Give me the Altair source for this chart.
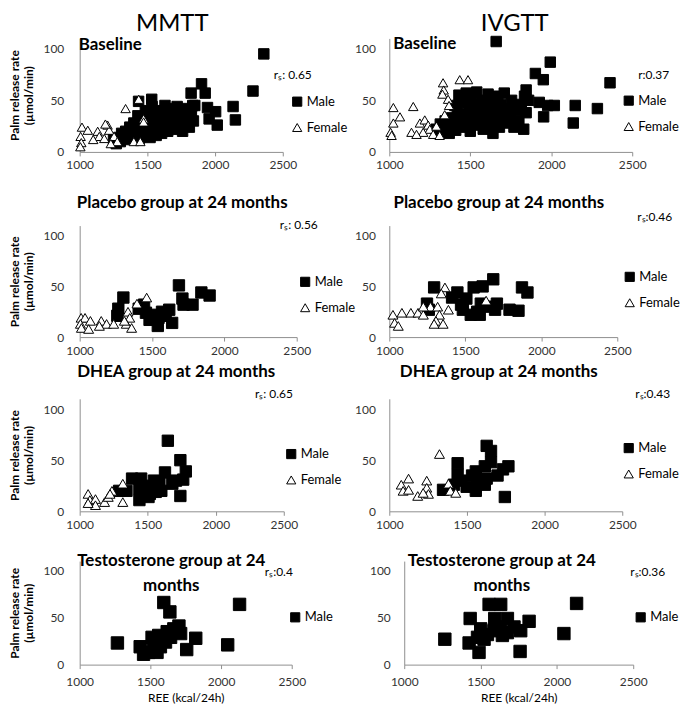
import altair as alt
import pandas as pd

FONT = "Lato"
X_TICKS = [1000, 1500, 2000, 2500]
Y_TICKS = [0, 50, 100]
AXIS_GREY = "#8f8f8f"

# ---------------- data: (REE kcal/24h, palm release rate µmol/min) ----------------
mmtt_base_male = [
    (1250, 12), (1270, 8), (1290, 14), (1300, 10), (1310, 18), (1330, 12), (1340, 20), (1355, 15),
    (1370, 24), (1380, 13), (1395, 19), (1400, 28), (1410, 16), (1420, 22), (1430, 35), (1440, 13),
    (1445, 26), (1455, 18), (1460, 31), (1470, 22), (1480, 15), (1485, 40), (1490, 27), (1500, 19),
    (1505, 34), (1515, 24), (1520, 14), (1530, 29), (1535, 44), (1545, 20), (1550, 37), (1560, 26),
    (1565, 16), (1575, 32), (1580, 23), (1590, 40), (1600, 28), (1605, 18), (1615, 35), (1625, 24),
    (1630, 45), (1640, 30), (1650, 20), (1655, 38), (1665, 27), (1670, 42), (1680, 33), (1690, 22),
    (1700, 36), (1710, 28), (1720, 44), (1730, 31), (1740, 25), (1750, 38), (1760, 20), (1770, 33),
    (1780, 42), (1790, 27), (1800, 35), (1810, 24), (1825, 40), (1840, 30), (1850, 45),
    (1435, 49), (1532, 51), (1823, 57), (1835, 45), (1900, 66), (1927, 57), (1944, 43), (1956, 32),
    (2004, 39), (2016, 26), (2133, 44), (2150, 31), (2280, 59), (2360, 95)]
mmtt_base_female = [
    (1017, 24), (1060, 21), (1007, 15), (1012, 9), (1005, 5), (1133, 20), (1206, 26), (1218, 21),
    (1339, 42), (1436, 51), (1472, 32), (1145, 15), (1254, 15), (1278, 10), (1400, 10), (1448, 10),
    (1182, 13), (1472, 29), (1190, 27), (1100, 12), (1230, 8)]

ivgtt_base_male = [
    (1290, 22), (1300, 18), (1315, 27), (1330, 20), (1345, 30), (1360, 24), (1370, 18), (1385, 33),
    (1395, 26), (1405, 45), (1410, 21), (1420, 38), (1430, 55), (1440, 30), (1450, 24), (1455, 48),
    (1465, 36), (1475, 57), (1480, 28), (1490, 42), (1500, 20), (1505, 52), (1515, 34), (1525, 46),
    (1535, 26), (1540, 58), (1550, 39), (1560, 30), (1570, 50), (1580, 22), (1590, 44), (1600, 35),
    (1610, 56), (1620, 27), (1630, 48), (1640, 18), (1650, 40), (1660, 32), (1670, 54), (1680, 24),
    (1690, 46), (1700, 36), (1710, 57), (1720, 28), (1730, 42), (1745, 34), (1755, 50), (1770, 24),
    (1785, 40), (1800, 30), (1815, 46), (1830, 22), (1845, 38), (1860, 50),
    (1660, 107), (1994, 87), (1902, 76), (1951, 70), (2363, 67), (2148, 45), (2285, 42), (2136, 28),
    (1953, 34), (1926, 48), (2019, 45), (1978, 45), (1845, 60), (1835, 54)]
ivgtt_base_female = [
    (1025, 43), (1025, 28), (1008, 19), (1014, 16), (1066, 34), (1148, 44), (1137, 19), (1332, 67),
    (1336, 60), (1328, 56), (1435, 70), (1486, 70), (1363, 51), (1369, 45), (1342, 36), (1189, 28),
    (1219, 31), (1240, 26), (1250, 22), (1271, 17), (1209, 19), (1168, 17), (1291, 25), (1311, 16)]

mmtt_placebo_male = [
    (1686, 51), (1302, 39), (1841, 44), (1898, 41), (1710, 38), (1780, 32), (1718, 32), (1619, 27),
    (1594, 21), (1639, 14), (1540, 11), (1267, 28), (1260, 21), (1445, 32), (1458, 24), (1507, 22),
    (1545, 19), (1569, 25), (1483, 17), (1408, 28)]
mmtt_placebo_female = [
    (1010, 19), (1037, 19), (1074, 16), (1005, 13), (1012, 9), (1062, 8), (1149, 16), (1186, 13),
    (1136, 11), (1334, 25), (1346, 19), (1322, 13), (1359, 9), (1396, 33), (1463, 39), (1309, 16),
    (1235, 13)]
ivgtt_placebo_male = [
    (1684, 57), (1295, 49), (1873, 49), (1909, 44), (1448, 44), (1555, 49), (1614, 50), (1507, 38),
    (1413, 39), (1248, 33), (1260, 27), (1484, 27), (1578, 25), (1602, 33), (1708, 33), (1696, 27),
    (1791, 27), (1850, 26), (1536, 22), (1595, 22), (1472, 32), (1649, 30)]
ivgtt_placebo_female = [
    (1024, 22), (1035, 14), (1059, 11), (1083, 24), (1142, 24), (1189, 24), (1224, 22), (1271, 30),
    (1318, 30), (1330, 22), (1307, 16), (1295, 13), (1354, 13), (1366, 49), (1342, 43), (1389, 27),
    (1637, 36), (1224, 30)]

mmtt_dhea_male = [
    (1648, 69), (1740, 50), (1780, 39), (1740, 15), (1627, 38), (1385, 32), (1452, 32), (1439, 22),
    (1439, 11), (1344, 20), (1290, 20), (1519, 25), (1559, 19), (1586, 28), (1708, 30), (1761, 31),
    (1681, 27), (1516, 17), (1600, 20), (1546, 30), (1506, 14)]
mmtt_dhea_female = [
    (1062, 17), (1075, 11), (1116, 12), (1116, 6), (1183, 9), (1210, 14), (1237, 20), (1223, 17),
    (1317, 27), (1317, 9), (1062, 8)]
ivgtt_dhea_male = [
    (1627, 64), (1655, 59), (1655, 48), (1615, 44), (1440, 47), (1440, 36), (1463, 30), (1533, 35),
    (1568, 29), (1498, 24), (1557, 20), (1346, 21), (1767, 44), (1732, 41), (1697, 35), (1744, 14),
    (1615, 26), (1627, 32), (1416, 26), (1557, 39)]
ivgtt_dhea_female = [
    (1077, 26), (1124, 32), (1089, 20), (1124, 21), (1183, 15), (1241, 30), (1241, 23), (1252, 17),
    (1323, 56), (1381, 27), (1393, 20), (1428, 18), (1218, 18)]

mmtt_testo_male = [
    (1267, 23), (1595, 66), (1638, 56), (2131, 64), (2047, 21), (1757, 16), (1821, 28), (1428, 19),
    (1452, 11), (1488, 13), (1535, 24), (1512, 29), (1559, 31), (1619, 35), (1666, 38), (1702, 41),
    (1714, 33), (1607, 24), (1571, 19), (1523, 17), (1643, 29), (1547, 13)]
ivgtt_testo_male = [
    (1266, 27), (1556, 64), (1632, 64), (2129, 65), (1432, 49), (1593, 49), (1676, 49), (1818, 46),
    (2046, 33), (1759, 14), (1490, 13), (1425, 23), (1480, 29), (1501, 38), (1545, 32), (1588, 36),
    (1632, 40), (1676, 34), (1719, 40), (1763, 36), (1643, 31), (1523, 27)]

column_titles = ["MMTT", "IVGTT"]
row_titles = ["Baseline", "Placebo group at 24 months", "DHEA group at 24 months",
              ["Testosterone group at 24", "months"]]
corr_labels = [["rₛ: 0.65", "r:0.37"], ["rₛ: 0.56", "rₛ:0.46"],
               ["rₛ: 0.65", "rₛ:0.43"], ["rₛ:0.4", "rₛ:0.36"]]
y_title = ["Palm release rate", "(µmol/min)"]
x_title = "REE  (kcal/24h)"


def make_df(points, sex):
    return pd.DataFrame([{"REE": x, "PRR": y, "Sex": sex} for x, y in points])


def txt(text, x, y, size, bold=False, align="left", line_height=None):
    kw = dict(text=text, font=FONT, fontSize=size, fontWeight="bold" if bold else "normal",
              align=align, baseline="middle", color="black")
    if line_height:
        kw["lineHeight"] = line_height
    return alt.Chart(pd.DataFrame({"k": [0]})).mark_text(**kw).encode(
        x=alt.value(x), y=alt.value(y))


def panel(male, female, width, height, left, bottom, leg, texts, msize, fsize, x0=0):
    sexes = ["Male", "Female"] if female else ["Male"]
    shapes = ["square", "triangle-up"][:len(sexes)]
    fills = ["black", "white"][:len(sexes)]
    strokes = ["black", "black"][:len(sexes)]
    legend = alt.Legend(orient="none", legendX=leg[0], legendY=leg[1], title=None,
                        labelFont=FONT, labelFontSize=13, labelColor="black", labelOffset=3,
                        symbolSize=85, symbolStrokeColor="black", symbolStrokeWidth=1,
                        rowPadding=12, padding=0)
    x_axis = alt.Axis(values=X_TICKS, format="d", tickSize=4, labelFlush=False,
                      labelPadding=8 if bottom else 4,
                      title=x_title if bottom else None, titleFont=FONT, titleFontSize=12,
                      titleFontWeight="normal", titleColor="black", titlePadding=5)
    y_axis = alt.Axis(values=Y_TICKS, ticks=False, tickSize=0, labelFlush=False,
                      labelPadding=16 if left else 14, offset=-x0,
                      title=y_title if left else None, titleFont=FONT, titleFontSize=12,
                      titleFontWeight="bold", titleColor="black", titlePadding=8,
                      titleLineHeight=14)
    enc = dict(
        x=alt.X("REE:Q", scale=alt.Scale(domain=[1000, 2500], range=[x0, width], nice=False,
                                         zero=False), axis=x_axis),
        y=alt.Y("PRR:Q", scale=alt.Scale(domain=[0, 110], nice=False), axis=y_axis),
        shape=alt.Shape("Sex:N", scale=alt.Scale(domain=sexes, range=shapes), legend=legend),
        fill=alt.Fill("Sex:N", scale=alt.Scale(domain=sexes, range=fills), legend=legend),
        stroke=alt.Stroke("Sex:N", scale=alt.Scale(domain=sexes, range=strokes), legend=legend),
    )
    layers = [alt.Chart(make_df(male, "Male")).mark_point(
        filled=True, strokeWidth=1, opacity=1, size=msize).encode(**enc)]
    if female:
        layers.append(alt.Chart(make_df(female, "Female")).mark_point(
            filled=True, strokeWidth=1, opacity=1, size=fsize).encode(**enc))
    return alt.layer(*layers, *texts).properties(width=width, height=height)


def spacer(w, h):
    return alt.Chart(pd.DataFrame({"k": [0]})).mark_point(opacity=0).encode(
        x=alt.value(0), y=alt.value(0)).properties(width=w, height=h)


H = [114, 112, 113, 104]
GAPS = [74, 62, 50]
LW = [204, 218, 205, 213]
RW = [244, 229, 234, 245]
COL_GAP = 93

L1 = panel(mmtt_base_male, mmtt_base_female, LW[0], H[0], True, False, (212, 57),
           [txt(column_titles[0], 93, -14, 24, align="center"),
            txt(row_titles[0], -1, 7, 17, bold=True),
            txt(corr_labels[0][0], 195, 37, 12)], 110, 90)
R1 = panel(ivgtt_base_male, ivgtt_base_female, RW[0], H[0], False, False, (234, 56),
           [txt(column_titles[1], 126, -14, 24, align="center"),
            txt(row_titles[0], 4, 6, 17, bold=True),
            txt(corr_labels[0][1], 250, 37, 12)], 110, 90)
L2 = panel(mmtt_placebo_male, mmtt_placebo_female, LW[1], H[1], True, False, (220, 50),
           [txt(row_titles[1], 103, -23, 17, bold=True, align="center"),
            txt(corr_labels[1][0], 201, -1, 12)], 130, 100)
R2 = panel(ivgtt_placebo_male, ivgtt_placebo_female, RW[1], H[1], False, False, (235, 45),
           [txt(row_titles[1], 110, -23, 17, bold=True, align="center"),
            txt(corr_labels[1][1], 249, -9, 12)], 130, 100)
L3 = panel(mmtt_dhea_male, mmtt_dhea_female, LW[2], H[2], True, False, (206, 49),
           [txt(row_titles[2], 97, -27, 17, bold=True, align="center"),
            txt(corr_labels[2][0], 176, -5, 12)], 130, 100)
R3 = panel(ivgtt_dhea_male, ivgtt_dhea_female, RW[2], H[2], False, False, (234, 43),
           [txt(row_titles[2], 110, -27, 17, bold=True, align="center"),
            txt(corr_labels[2][1], 247, -5, 12)], 130, 100)
L4 = panel(mmtt_testo_male, [], LW[3], H[3], True, True, (210, 50),
           [txt(row_titles[3], 92, 0, 17, bold=True, align="center", line_height=25),
            txt(corr_labels[3][0], 186, 11, 12)], 155, 100)
R4 = panel(ivgtt_testo_male, [], RW[3], H[3], False, True, (246, 50),
           [txt(row_titles[3], 113, 0, 17, bold=True, align="center", line_height=25),
            txt(corr_labels[3][1], 242, 11, 12)], 155, 100, x0=15)

items = []
pairs = [(L1, R1), (L2, R2), (L3, R3), (L4, R4)]
for i, (l, r) in enumerate(pairs):
    items += [l, r]
    if i < 3:
        items += [spacer(1, GAPS[i]), spacer(1, GAPS[i])]

chart = alt.concat(
    *items, columns=2, spacing={"row": 0, "column": COL_GAP}, bounds="flush",
    align=alt.RowColLayoutAlign(row="each", column="each")
).resolve_scale(
    shape="independent", fill="independent", stroke="independent"
).resolve_legend(
    shape="independent", fill="independent", stroke="independent"
).properties(padding={"top": 3, "left": 0, "right": 0, "bottom": 0}).configure_view(
    stroke=None
).configure_axis(
    labelFont=FONT, labelFontSize=12, labelColor="#333333",
    domainColor=AXIS_GREY, tickColor=AXIS_GREY, grid=False
)

chart.save("out.html", embed_options={"renderer": "svg", "actions": False})
